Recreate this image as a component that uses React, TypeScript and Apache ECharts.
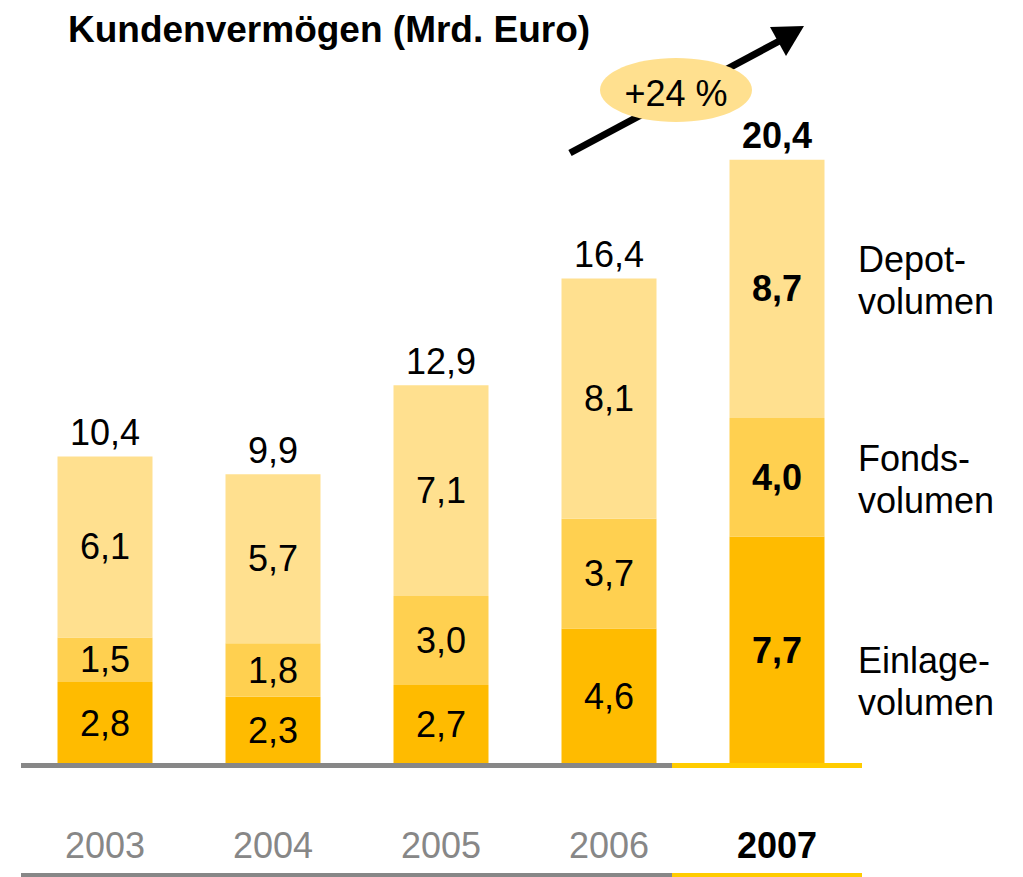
import React, { useEffect, useRef } from "react";
import * as echarts from "echarts";

const years = ["2003", "2004", "2005", "2006", "2007"];
const einlage = [2.8, 2.3, 2.7, 4.6, 7.7];
const fonds = [1.5, 1.8, 3.0, 3.7, 4.0];
const depot = [6.1, 5.7, 7.1, 8.1, 8.7];
const totals = [10.4, 9.9, 12.9, 16.4, 20.4];
const seriesNames = ["Einlage-\nvolumen", "Fonds-\nvolumen", "Depot-\nvolumen"];
const growthLabel = "+24 %";
const titleText = "Kundenvermögen (Mrd. Euro)";

const FONT = "'Liberation Sans', Arial, Helvetica, sans-serif";
const fmt = (v: number) => v.toFixed(1).replace(".", ",");
const lastIdx = years.length - 1;

function makeData(vals: number[]) {
  return vals.map((v, i) => ({
    value: v,
    label: i === lastIdx ? { fontWeight: "bold" } : {},
  }));
}

export default function App() {
  const ref = useRef<HTMLDivElement>(null);
  useEffect(() => {
    if (!ref.current) return;
    const chart = echarts.init(ref.current, undefined, { renderer: "svg" });
    const gridLeft = 21;
    const gridWidth = 840;
    const insideLabel = {
      show: true,
      position: "inside",
      color: "#000",
      fontSize: 36,
      fontFamily: FONT,
      formatter: (p: any) => fmt(p.value),
    };
    const colors = ["#FFBB00", "#FFD050", "#FFE08F"];
    const segs = [einlage, fonds, depot];
    const series: any[] = segs.map((vals, k) => ({
      type: "bar",
      name: seriesNames[k],
      stack: "a",
      barWidth: 95,
      itemStyle: { color: colors[k] },
      label: insideLabel,
      data: makeData(vals),
    }));
    series.push({
      type: "bar",
      name: "total",
      stack: "a",
      barWidth: 95,
      itemStyle: { color: "transparent" },
      label: {
        show: true,
        position: "top",
        distance: 6,
        color: "#000",
        fontSize: 36,
        fontFamily: FONT,
        formatter: (p: any) => fmt(totals[p.dataIndex]),
      },
      data: totals.map((_, i) => ({
        value: 0,
        label: i === lastIdx ? { fontWeight: "bold" } : {},
      })),
    });

    const rightLabels = [
      { text: seriesNames[2], y: 280 },
      { text: seriesNames[1], y: 479 },
      { text: seriesNames[0], y: 681 },
    ];

    const hLine = (y: number, h: number) => [
      {
        type: "rect",
        z: 10,
        shape: { x: 21, y, width: 651, height: h },
        style: { fill: "#878787" },
        silent: true,
      },
      {
        type: "rect",
        z: 10,
        shape: { x: 672, y, width: 190, height: h },
        style: { fill: "#FFCC00" },
        silent: true,
      },
    ];

    chart.setOption({
      animation: false,
      title: {
        text: titleText,
        left: 63,
        top: 6,
        textStyle: { fontSize: 37, fontWeight: "bold", fontFamily: FONT, color: "#000" },
      },
      grid: { left: gridLeft, width: gridWidth, top: 53, bottom: 877 - 765 },
      xAxis: {
        type: "category",
        data: years,
        axisTick: { show: false },
        axisLine: { show: false },
        axisLabel: {
          interval: 0,
          hideOverlap: false,
          margin: 62,
          fontSize: 36,
          fontFamily: FONT,
          color: "#878787",
          formatter: (v: string, i: number) => (i === lastIdx ? `{b|${v}}` : v),
          rich: { b: { fontSize: 36, fontWeight: "bold", color: "#000", fontFamily: FONT } },
        },
      },
      yAxis: {
        type: "value",
        min: 0,
        max: 24,
        show: false,
        splitLine: { show: false },
      },
      series,
      graphic: [
        ...hLine(763, 5),
        ...hLine(873, 4),
        {
          type: "line",
          shape: { x1: 570, y1: 153, x2: 785, y2: 38 },
          style: { stroke: "#000", lineWidth: 7 },
          silent: true,
        },
        {
          type: "polygon",
          shape: { points: [[804, 26], [770, 27], [786, 56]] },
          style: { fill: "#000" },
          silent: true,
        },
        {
          type: "ellipse",
          shape: { cx: 676, cy: 90, rx: 76, ry: 32 },
          style: { fill: "#FFE08F" },
          silent: true,
        },
        {
          type: "text",
          x: 676,
          y: 93,
          style: {
            text: growthLabel,
            fontSize: 36,
            fontFamily: FONT,
            fill: "#000",
            align: "center",
            verticalAlign: "middle",
          },
          silent: true,
        },
        ...rightLabels.map((r) => ({
          type: "text",
          x: 858,
          y: r.y,
          style: {
            text: r.text,
            fontSize: 36,
            lineHeight: 42,
            fontFamily: FONT,
            fill: "#000",
            align: "left",
            verticalAlign: "middle",
          },
          silent: true,
        })),
      ],
    });
    return () => chart.dispose();
  }, []);
  return <div ref={ref} style={{ width: 1023, height: 877, position: "absolute", left: 0, top: 0 }} />;
}
